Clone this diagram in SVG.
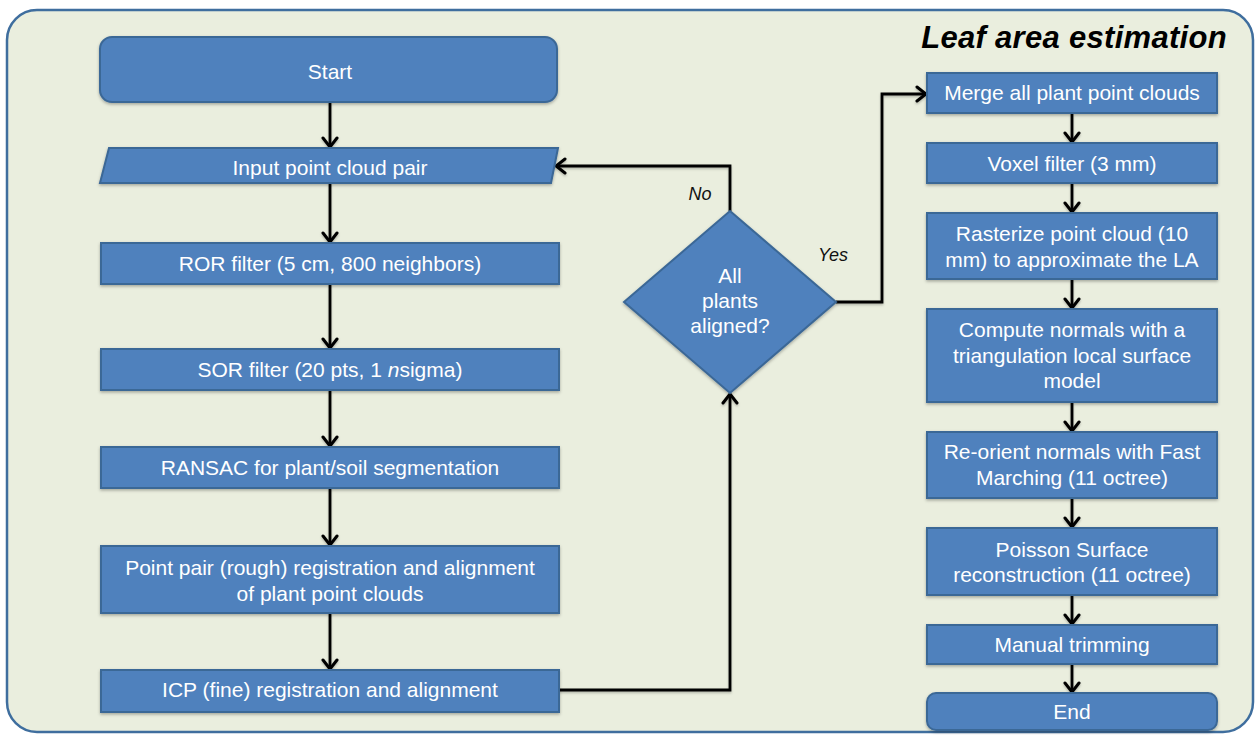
<svg xmlns="http://www.w3.org/2000/svg" width="1258" height="735" viewBox="0 0 1258 735">
  <defs>
    <style>
      .box { fill: #4F81BD; stroke: #3B6796; stroke-width: 2; filter: url(#shadow); }
      .lbl { font-family: "Liberation Sans", Arial, sans-serif; font-size: 21px; fill: #FFFFFF; text-anchor: middle; }
      .note { font-family: "Liberation Sans", Arial, sans-serif; font-size: 18px; font-style: italic; fill: #111111; text-anchor: middle; }
      .title { font-family: "Liberation Sans", Arial, sans-serif; font-size: 31px; font-weight: bold; font-style: italic; fill: #000000; text-anchor: end; letter-spacing: 0.3px; }
      .edge { fill: none; stroke: #000000; stroke-width: 2.8; marker-end: url(#arrow); filter: url(#lineShadow); }
    </style>
    <filter id="shadow" x="-10%" y="-10%" width="120%" height="130%">
      <feDropShadow dx="0" dy="1.5" stdDeviation="1.5" flood-color="#000000" flood-opacity="0.3"/>
    </filter>
    <!-- user-space region so straight vertical/horizontal lines keep their shadow -->
    <filter id="lineShadow" filterUnits="userSpaceOnUse" x="0" y="0" width="1258" height="735">
      <feDropShadow dx="0" dy="1.5" stdDeviation="1.2" flood-color="#000000" flood-opacity="0.25"/>
    </filter>
    <marker id="arrow" viewBox="-12 -9 14 18" refX="0" refY="0" markerWidth="14" markerHeight="18" markerUnits="userSpaceOnUse" orient="auto">
      <path d="M-9,-7 L0,0 L-9,7" fill="none" stroke="#000000" stroke-width="3" stroke-linecap="round" stroke-linejoin="miter"/>
    </marker>
  </defs>

  <!-- panel background -->
  <rect x="7" y="10" width="1246" height="722" rx="30" ry="30" fill="#EAEEDE" stroke="#3F6E9E" stroke-width="2.5"/>
  <text class="title" x="1227" y="48">Leaf area estimation</text>

  <!-- connectors -->
  <g id="connectors">
    <path class="edge" d="M330,102 V147"/>
    <path class="edge" d="M330,183 V242"/>
    <path class="edge" d="M330,284 V348"/>
    <path class="edge" d="M330,390 V446"/>
    <path class="edge" d="M330,488 V545"/>
    <path class="edge" d="M330,613 V669"/>
    <path class="edge" d="M559,690 H730 V394"/>
    <path class="edge" d="M730,211 V166 H556"/>
    <path class="edge" d="M836,302 H882 V94 H926"/>
    <path class="edge" d="M1072,113 V142"/>
    <path class="edge" d="M1072,183 V212"/>
    <path class="edge" d="M1072,279 V308"/>
    <path class="edge" d="M1072,402 V431"/>
    <path class="edge" d="M1072,498 V527"/>
    <path class="edge" d="M1072,595 V624"/>
    <path class="edge" d="M1072,664 V692"/>
    <text class="note" x="700" y="200">No</text>
    <text class="note" x="833" y="261">Yes</text>
  </g>

  <!-- left column -->
  <g id="start">
    <rect class="box" x="100" y="37" width="457" height="65" rx="12" ry="12"/>
    <text class="lbl" x="330" y="79">Start</text>
  </g>
  <g id="input">
    <polygon class="box" points="109,148 558,148 551,183 100,183"/>
    <text class="lbl" x="330" y="175">Input point cloud pair</text>
  </g>
  <g id="ror">
    <rect class="box" x="101" y="243" width="458" height="41"/>
    <text class="lbl" x="330" y="271">ROR filter (5 cm, 800 neighbors)</text>
  </g>
  <g id="sor">
    <rect class="box" x="101" y="349" width="458" height="41"/>
    <text class="lbl" x="330" y="377">SOR filter (20 pts, 1 <tspan font-style="italic">n</tspan>sigma)</text>
  </g>
  <g id="ransac">
    <rect class="box" x="101" y="447" width="458" height="41"/>
    <text class="lbl" x="330" y="475">RANSAC for plant/soil segmentation</text>
  </g>
  <g id="rough">
    <rect class="box" x="101" y="546" width="458" height="67"/>
    <text class="lbl" x="330" y="575">Point pair (rough) registration and alignment</text>
    <text class="lbl" x="330" y="601">of plant point clouds</text>
  </g>
  <g id="icp">
    <rect class="box" x="101" y="670" width="458" height="42"/>
    <text class="lbl" x="330" y="697">ICP (fine) registration and alignment</text>
  </g>

  <!-- decision -->
  <g id="decision">
    <polygon class="box" points="730,211 836,302 730,393 624,302"/>
    <text class="lbl" x="730" y="283">All</text>
    <text class="lbl" x="730" y="308">plants</text>
    <text class="lbl" x="730" y="333">aligned?</text>
  </g>

  <!-- right column -->
  <g id="merge">
    <rect class="box" x="927" y="73" width="290" height="40"/>
    <text class="lbl" x="1072" y="100">Merge all plant point clouds</text>
  </g>
  <g id="voxel">
    <rect class="box" x="927" y="143" width="290" height="40"/>
    <text class="lbl" x="1072" y="171">Voxel filter (3 mm)</text>
  </g>
  <g id="rasterize">
    <rect class="box" x="927" y="213" width="290" height="66"/>
    <text class="lbl" x="1072" y="241">Rasterize point cloud (10</text>
    <text class="lbl" x="1072" y="267">mm) to approximate the LA</text>
  </g>
  <g id="normals">
    <rect class="box" x="927" y="309" width="290" height="93"/>
    <text class="lbl" x="1072" y="337">Compute normals with a</text>
    <text class="lbl" x="1072" y="363">triangulation local surface</text>
    <text class="lbl" x="1072" y="388">model</text>
  </g>
  <g id="reorient">
    <rect class="box" x="927" y="432" width="290" height="66"/>
    <text class="lbl" x="1072" y="459">Re-orient normals with Fast</text>
    <text class="lbl" x="1072" y="485">Marching (11 octree)</text>
  </g>
  <g id="poisson">
    <rect class="box" x="927" y="528" width="290" height="67"/>
    <text class="lbl" x="1072" y="557">Poisson Surface</text>
    <text class="lbl" x="1072" y="582">reconstruction (11 octree)</text>
  </g>
  <g id="trim">
    <rect class="box" x="927" y="625" width="290" height="39"/>
    <text class="lbl" x="1072" y="652">Manual trimming</text>
  </g>
  <g id="end">
    <rect class="box" x="927" y="693" width="290" height="37" rx="9" ry="9"/>
    <text class="lbl" x="1072" y="719">End</text>
  </g>
</svg>
